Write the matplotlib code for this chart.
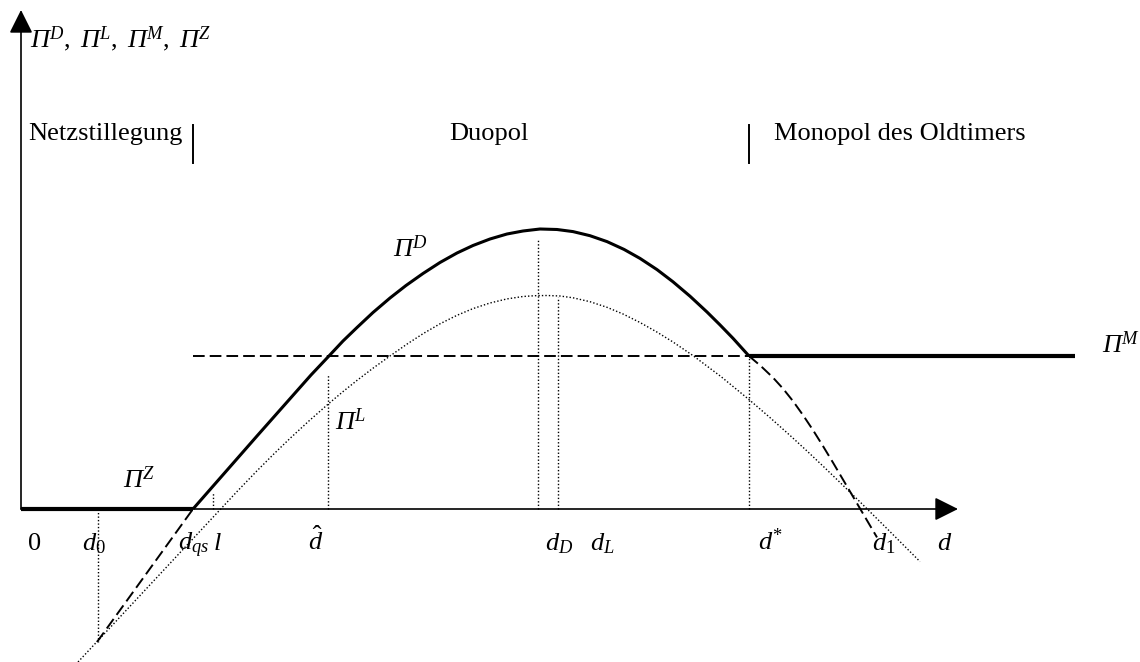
import matplotlib
matplotlib.use('Agg')
import matplotlib.pyplot as plt

plt.rcParams['font.family'] = ['Liberation Serif', 'DejaVu Serif']
plt.rcParams['mathtext.fontset'] = 'custom'
plt.rcParams['mathtext.rm'] = 'Liberation Serif'
plt.rcParams['mathtext.it'] = 'Liberation Serif:italic'
plt.rcParams['mathtext.sf'] = 'Liberation Serif:italic'

# key points on the d axis
d_0 = 77
d_qs = 172
l_pt = 192
d_hat = 307
d_D = 517
d_L = 537
d_star = 728
x_end = 1054
pi_M = 153

# duopoly profit Pi^D (solid part between d_qs and d*)
piD_x = [172, 204, 236, 263, 290, 307, 322, 336, 352, 369, 385, 402, 419, 436, 452, 469,
         486, 502, 519, 536, 552, 569, 586, 603, 619, 636, 652, 669, 686, 699, 712, 728]
piD_y = [0, 36.5, 73, 103.5, 134, 152, 168, 181.5, 196.5, 211, 223.5, 235.5, 246.5, 256,
         263.5, 270, 275, 278, 280, 279.5, 277.4, 273.3, 267.4, 259.6, 250.6, 239.4, 227.2,
         212.8, 197, 184.1, 170.7, 153]
# dashed continuation of Pi^D
piD_left_x = [76, 172]
piD_left_y = [-133, 0]
piD_right_x = [728, 740, 752, 762, 772, 782, 792, 802, 812, 822, 832, 841, 849, 856]
piD_right_y = [153, 142.8, 131.4, 120.4, 107.9, 93.9, 78.9, 62.9, 46.4, 29.4, 12.4, -2.9,
               -16.5, -28.4]

# leader profit Pi^L (dotted)
piL_x = [57, 197, 217, 236, 253, 269, 288, 307, 322, 336, 352, 369, 386, 402, 419, 436,
         452, 469, 486, 502, 514, 526, 539, 552, 569, 586, 602, 619, 636, 652, 672, 700,
         729, 749, 769, 786, 802, 820, 839, 869, 899]
piL_y = [-153, -2.9, 18.5, 38.2, 55.2, 70.6, 88.1, 104.8, 117.4, 128.6, 140.8, 153, 164.9,
         175.3, 185.2, 193.7, 200.4, 206, 210.1, 212.5, 213.3, 213.5, 213, 211.2, 207.3,
         201.7, 195, 186.5, 176.9, 167, 153.4, 132.4, 108.6, 91.4, 73.6, 58, 42.9, 25.6,
         7.1, -22.6, -52.6]

# heights of the vertical dotted guide lines
guide_x = [d_0, l_pt, d_hat, d_D, d_L, d_star]
guide_y = [-133, 17, 134, 269, 212, 153]

fig = plt.figure(figsize=(11.4, 6.62), dpi=100)
ax = fig.add_axes([0, 0, 1, 1])
ax.set_xlim(-21, 1119)
ax.set_ylim(-153, 509)
ax.axis('off')

# axes with arrows
arrow = dict(arrowstyle='-|>,head_length=1.44,head_width=0.72', mutation_scale=10,
             color='black', lw=1.2, shrinkA=0, shrinkB=0)
ax.annotate('', xy=(0, 499), xytext=(0, 0), arrowprops=arrow)
ax.annotate('', xy=(937, 0), xytext=(0, 0), arrowprops=arrow)

dot = (0, (1, 1.5))
dash = (0, (6, 2.6))

# curves
ax.plot(piL_x, piL_y, color='black', lw=1.0, linestyle=dot)
ax.plot(piD_left_x, piD_left_y, color='black', lw=1.4, linestyle=dash)
ax.plot(piD_right_x, piD_right_y, color='black', lw=1.4, linestyle=dash)
ax.plot([d_qs, d_star], [pi_M, pi_M], color='black', lw=1.4, linestyle=dash)
ax.plot(piD_x, piD_y, color='black', lw=2.2, solid_capstyle='butt', solid_joinstyle='round')
ax.plot([d_star, x_end], [pi_M, pi_M], color='black', lw=3.0, solid_capstyle='butt')
ax.plot([0, d_qs], [0, 0], color='black', lw=3.0, solid_capstyle='butt')

for gx, gy in zip(guide_x, guide_y):
    ax.plot([gx, gx], [0, gy], color='black', lw=1.0, linestyle=dot)

# region separators
for sx in [d_qs, d_star]:
    ax.plot([sx, sx], [346, 384], color='black', lw=1.4)

fs = 19
ax.text(9, 462, r'$\mathsf{Π}^{D},\ \mathsf{Π}^{L},\ \mathsf{Π}^{M},\ \mathsf{Π}^{Z}$', fontsize=fs)
ax.text(7, 369, 'Netzstillegung', fontsize=fs)
ax.text(428, 369, 'Duopol', fontsize=fs)
ax.text(753, 369, 'Monopol des Oldtimers', fontsize=fs)

ax.text(372, 252, r'$\mathsf{Π}^{D}$', fontsize=fs)
ax.text(314, 79, r'$\mathsf{Π}^{L}$', fontsize=fs)
ax.text(1081, 156, r'$\mathsf{Π}^{M}$', fontsize=fs)
ax.text(102, 21, r'$\mathsf{Π}^{Z}$', fontsize=fs)

# labels under the d axis
tick_labels = [r'$0$', r'$d_0$', r'$d_{qs}$', r'$l$', r'$\hat{d}$', r'$d_D$', r'$d_L$',
               r'$d^{*}$', r'$d_1$', r'$d$']
tick_pos = [6, 61, 157, 192, 287, 524, 569, 737, 851, 916]
for lab, tx in zip(tick_labels, tick_pos):
    ax.text(tx, -41, lab, fontsize=fs)

fig.savefig('out.png', dpi=100)
